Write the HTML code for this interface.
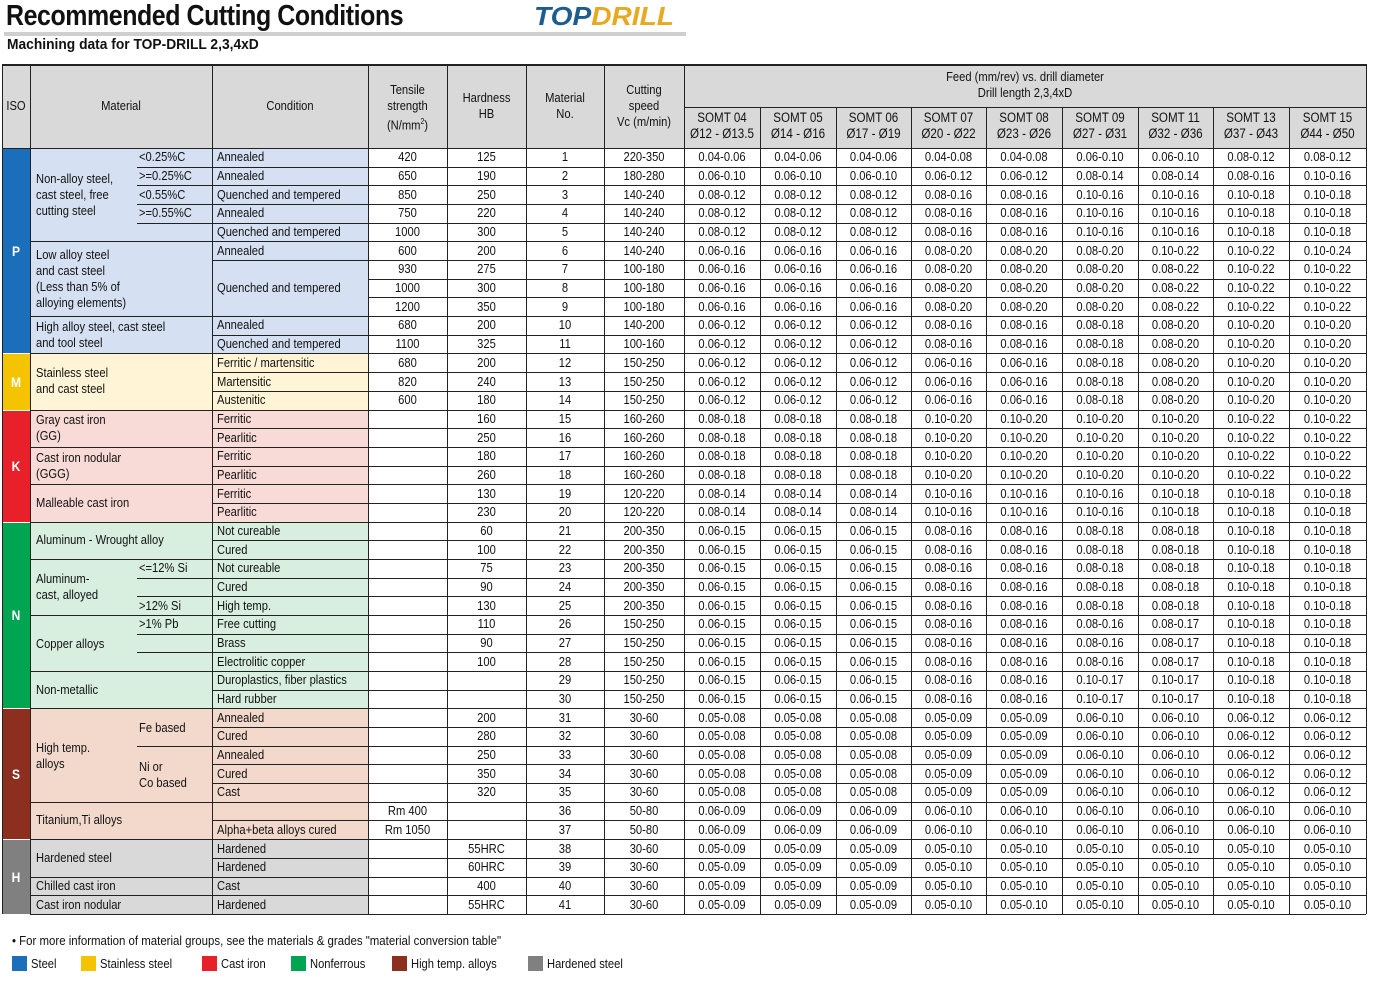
<!DOCTYPE html>
<html><head><meta charset="utf-8">
<style>
html,body{margin:0;padding:0;background:#fff;}
#c{position:relative;width:1400px;height:1000px;overflow:hidden;font-family:"Liberation Sans",sans-serif;font-size:13px;color:#111;}
.a{position:absolute;white-space:nowrap;}
.t{position:absolute;white-space:nowrap;line-height:16px;transform:scaleX(0.86);transform-origin:left center;}
.c{text-align:center;transform-origin:center center;}
</style></head><body>
<div id="c">
<div class="a" style="left:6px;top:0px;font-size:29px;font-weight:bold;letter-spacing:-0.5px;transform:scaleX(0.86);transform-origin:left top;">Recommended Cutting Conditions</div>
<div class="a" style="left:534px;top:1px;font-size:26px;font-weight:bold;font-style:italic;color:#1b5d8f;transform:scaleX(1.08);transform-origin:left top;">TOP<span style="color:#e8a820">DRILL</span></div>
<div class="a" style="left:4px;top:32px;width:682px;height:4px;background:#cfcfcf;"></div>
<div class="a" style="left:7px;top:36px;font-size:15px;font-weight:bold;transform:scaleX(0.92);transform-origin:left top;">Machining data for TOP-DRILL 2,3,4xD</div>
<div class="a" style="left:12px;top:933px;font-size:13px;transform:scaleX(0.88);transform-origin:left top;">• For more information of material groups, see the materials &amp; grades "material conversion table"</div>
</div>
<script>
var C=document.getElementById('c');
function box(x,y,w,h,bg){var d=document.createElement('div');d.className='a';d.style.cssText='left:'+x+'px;top:'+y+'px;width:'+w+'px;height:'+h+'px;background:'+bg;C.appendChild(d);}
function txt(x,y,s,w,extra){var n=String(s).split('<br>').length;var d=document.createElement('div');d.className='t'+(w?' c':'');d.style.left=x+'px';d.style.top=(y-n*8)+'px';if(w)d.style.width=w+'px';if(extra)d.style.cssText+=extra;d.innerHTML=s;C.appendChild(d);}
var X=[2,30,212,368,447,526,604,684,760,836,911,986,1062,1138,1213,1289,1366];
var Y0=148,RH=18.68,TOPY=64;
function ry(i){return Y0+i*RH;}
box(2,TOPY,1364,Y0-TOPY,'#d9d9d9');
var groups=[[0,11,'#1b6fba','#d5e1f2','P'],[11,14,'#f5c400','#fff5d6','M'],[14,20,'#e8202a','#f8dad6','K'],[20,30,'#00a551','#d8efdf','N'],[30,37,'#8c2f1f','#f2d9cc','S'],[37,41,'#808080','#d9d9d9','H']];
groups.forEach(function(g){var y=ry(g[0]),h=ry(g[1])-y;box(2,y,28,h,g[2]);box(30,y,338,h,g[3]);txt(2,y+h/2,g[4],28,'color:#fff;font-weight:bold;font-size:14px;');});
function hl(x1,x2,y,c,t){box(x1,Math.round(y),x2-x1,t||1,c||'#222');}
function vl(x,y1,y2,c){box(x,y1,1,Math.round(y2-y1),c||'#222');}
hl(2,1366,TOPY,'#222',2);hl(2,1366,Y0,'#222',1);hl(684,1366,107);
for(var i=1;i<=41;i++){hl(368,1366,ry(i));}
for(var i=1;i<=41;i++){if(i==7||i==8)continue;hl(212,368,ry(i));}
[5,9,11,14,16,18,20,22,25,28,30,35,37,39,40,41].forEach(function(i){hl(30,212,ry(i));});
[11,14,20,30,37].forEach(function(i){hl(2,30,ry(i),'#fff');});
[1,2,3,4,23,24,26,27,32].forEach(function(i){hl(137,212,ry(i));});
for(var k=0;k<X.length;k++){var ty=(k>7&&k<16)?107:TOPY;vl(X[k],ty,ry(41));}
var H=[['ISO',0],['Material',1],['Condition',2],['Tensile<br>strength<br>(N/mm<sup style="font-size:8px">2</sup>)',3],['Hardness<br>HB',4],['Material<br>No.',5],['Cutting<br>speed<br>Vc (m/min)',6]];
H.forEach(function(h){txt(X[h[1]],106,h[0],X[h[1]+1]-X[h[1]]);});
txt(684,85,'Feed (mm/rev) vs. drill diameter<br>Drill length 2,3,4xD',682);
var S=[['04','Ø12 - Ø13.5'],['05','Ø14 - Ø16'],['06','Ø17 - Ø19'],['07','Ø20 - Ø22'],['08','Ø23 - Ø26'],['09','Ø27 - Ø31'],['11','Ø32 - Ø36'],['13','Ø37 - Ø43'],['15','Ø44 - Ø50']];
S.forEach(function(s,k){txt(X[7+k],126,'SOMT '+s[0]+'<br>'+s[1],X[8+k]-X[7+k],'font-size:13.5px');});
var TS=[420,650,850,750,1000,600,930,1000,1200,680,1100,680,820,600];
TS[35]='Rm 400';TS[36]='Rm 1050';
var HB=[125,190,250,220,300,200,275,300,350,200,325,200,240,180,160,250,180,260,130,230,60,100,75,90,130,110,90,100,'','',200,280,250,350,320,'','','55HRC','60HRC',400,'55HRC'];
var VC=['220-350','180-280','140-240','140-240','140-240','140-240','100-180','100-180','100-180','140-200','100-160'];
for(var i=11;i<14;i++)VC[i]='150-250';for(i=14;i<18;i++)VC[i]='160-260';VC[18]=VC[19]='120-220';
for(i=20;i<25;i++)VC[i]='200-350';for(i=25;i<30;i++)VC[i]='150-250';for(i=30;i<35;i++)VC[i]='30-60';VC[35]=VC[36]='50-80';for(i=37;i<41;i++)VC[i]='30-60';
function r(a,n){var o=[];for(var i=0;i<n;i++)o.push(a);return o;}
var F=[];
F[0]=r('0.04-0.06',3).concat(['0.04-0.08','0.04-0.08','0.06-0.10','0.06-0.10','0.08-0.12','0.08-0.12']);
F[1]=r('0.06-0.10',3).concat(['0.06-0.12','0.06-0.12','0.08-0.14','0.08-0.14','0.08-0.16','0.10-0.16']);
F[2]=r('0.08-0.12',3).concat(['0.08-0.16','0.08-0.16','0.10-0.16','0.10-0.16','0.10-0.18','0.10-0.18']);
F[3]=F[4]=F[2];
F[5]=r('0.06-0.16',3).concat(['0.08-0.20','0.08-0.20','0.08-0.20','0.10-0.22','0.10-0.22','0.10-0.24']);
F[6]=F[7]=F[8]=r('0.06-0.16',3).concat(r('0.08-0.20',3)).concat(['0.08-0.22','0.10-0.22','0.10-0.22']);
F[9]=F[10]=r('0.06-0.12',3).concat(['0.08-0.16','0.08-0.16','0.08-0.18','0.08-0.20','0.10-0.20','0.10-0.20']);
F[11]=F[12]=F[13]=r('0.06-0.12',3).concat(['0.06-0.16','0.06-0.16','0.08-0.18','0.08-0.20','0.10-0.20','0.10-0.20']);
for(i=14;i<18;i++)F[i]=r('0.08-0.18',3).concat(r('0.10-0.20',4)).concat(['0.10-0.22','0.10-0.22']);
F[18]=F[19]=r('0.08-0.14',3).concat(r('0.10-0.16',3)).concat(r('0.10-0.18',3));
for(i=20;i<25;i++)F[i]=r('0.06-0.15',3).concat(['0.08-0.16','0.08-0.16','0.08-0.18','0.08-0.18','0.10-0.18','0.10-0.18']);
for(i=25;i<28;i++)F[i]=r('0.06-0.15',3).concat(['0.08-0.16','0.08-0.16','0.08-0.16','0.08-0.17','0.10-0.18','0.10-0.18']);
F[28]=F[29]=r('0.06-0.15',3).concat(['0.08-0.16','0.08-0.16','0.10-0.17','0.10-0.17','0.10-0.18','0.10-0.18']);
for(i=30;i<35;i++)F[i]=r('0.05-0.08',3).concat(['0.05-0.09','0.05-0.09','0.06-0.10','0.06-0.10','0.06-0.12','0.06-0.12']);
F[35]=F[36]=r('0.06-0.09',3).concat(r('0.06-0.10',6));
for(i=37;i<41;i++)F[i]=r('0.05-0.09',3).concat(r('0.05-0.10',6));
var CO=['Annealed','Annealed','Quenched and tempered','Annealed','Quenched and tempered','Annealed','','','','Annealed','Quenched and tempered','Ferritic / martensitic','Martensitic','Austenitic','Ferritic','Pearlitic','Ferritic','Pearlitic','Ferritic','Pearlitic','Not cureable','Cured','Not cureable','Cured','High temp.','Free cutting','Brass','Electrolitic copper','Duroplastics, fiber plastics','Hard rubber','Annealed','Cured','Annealed','Cured','Cast','','Alpha+beta alloys cured','Hardened','Hardened','Cast','Hardened'];
for(i=0;i<41;i++){var y=ry(i)+RH/2;
 if(CO[i])txt(217,y,CO[i]);
 if(TS[i]!==undefined)txt(X[3],y,TS[i],X[4]-X[3]);
 txt(X[4],y,HB[i],X[5]-X[4]);txt(X[5],y,i+1,X[6]-X[5]);txt(X[6],y,VC[i],X[7]-X[6]);
 for(var k=0;k<9;k++)txt(X[7+k],y,F[i][k],X[8+k]-X[7+k]);}
txt(217,ry(7)+RH/2,'Quenched and tempered');
function m(x,y,s){txt(x,y,s);}
function rc(i){return ry(i)+RH/2;}
m(139,rc(0),'&lt;0.25%C');m(139,rc(1),'&gt;=0.25%C');m(139,rc(2),'&lt;0.55%C');m(139,rc(3),'&gt;=0.55%C');
m(36,195,'Non-alloy steel,<br>cast steel, free<br>cutting steel');
m(36,279,'Low alloy steel<br>and cast steel<br>(Less than 5% of<br>alloying elements)');
m(36,335,'High alloy steel, cast steel<br>and tool steel');
m(36,381,'Stainless steel<br>and cast steel');
m(36,428,'Gray cast iron<br>(GG)');m(36,466,'Cast iron nodular<br>(GGG)');m(36,ry(19),'Malleable cast iron');
m(36,ry(21),'Aluminum - Wrought alloy');m(36,587,'Aluminum-<br>cast, alloyed');
m(139,rc(22),'&lt;=12% Si');m(139,rc(24),'&gt;12% Si');m(139,rc(25),'&gt;1% Pb');
m(36,644,'Copper alloys');m(36,ry(29),'Non-metallic');
m(36,756,'High temp.<br>alloys');m(139,728,'Fe based');m(139,775,'Ni or<br>Co based');
m(36,ry(36),'Titanium,Ti alloys');m(36,ry(38),'Hardened steel');m(36,rc(39),'Chilled cast iron');m(36,rc(40),'Cast iron nodular');
var L=[[12,'#1b6fba','Steel'],[81,'#f5c400','Stainless steel'],[202,'#e8202a','Cast iron'],[291,'#00a551','Nonferrous'],[392,'#8c2f1f','High temp. alloys'],[528,'#808080','Hardened steel']];
L.forEach(function(l){box(l[0],956,15,15,l[1]);txt(l[0]+19,964,l[2]);});
</script>
</body></html>
